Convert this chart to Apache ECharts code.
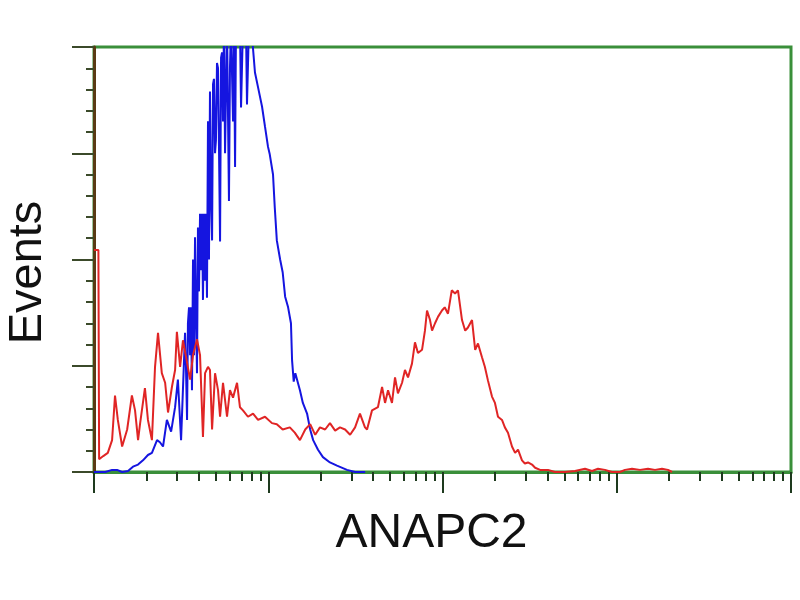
<!DOCTYPE html>
<html><head><meta charset="utf-8">
<script src="https://cdn.jsdelivr.net/npm/echarts@6/dist/echarts.min.js"></script>
<style>html,body{margin:0;padding:0;background:#fff}#c{width:800px;height:600px}</style>
</head><body><div id="c"></div>
<script>
const xTitle = 'ANAPC2';
const yTitle = 'Events';

const redIntensity = [1.0,1.06,1.07,1.13,1.20,1.27,1.32,1.37,1.45,1.55,1.65,1.72,1.79,1.84,1.96,2.04,2.15,2.24,2.33,2.45,2.56,2.66,2.80,2.92,2.99,3.12,3.24,3.42,3.56,3.70,3.90,4.06,4.22,4.34,4.51,4.63,4.76,4.95,5.15,5.29,5.50,5.80,6.03,6.28,6.62,6.88,7.16,7.65,8.18,8.74,9.58,10.5,11.2,12.1,13.3,14.2,15.2,16.3,17.4,18.6,19.8,21.2,22.6,24.2,25.8,27.6,29.5,31.5,33.6,35.9,36.9,39.4,42.6,45.0,46.8,48.7,51.3,53.4,55.5,58.6,60.9,63.4,66.8,69.5,72.3,76.3,79.3,81.5,84.8,87.1,90.6,94.2,99.3,103,107.5,113,118,122.7,129.4,135,140,147.7,154,159.8,168.5,175,182.4,192.3,200,208.2,219.5,228,237.6,250.5,261,271.3,285.9,297,309.6,326.3,340,363,403,442,504.7,575.9,657.3,721,780.6,856,939,1044,1115,1223,1360,1511,1658,1818,1969,2076];
const redEvents = [209,209,12,15,18,30,72,49,24,40,72,58,30,46,79,49,30,99,131,93,84,56,80,96,132,99,124,103,87,110,125,110,33,93,99,96,40,93,77,52,84,52,77,70,84,61,58,52,55,49,52,46,45,40,42,37,30,40,45,35,42,40,46,39,42,40,35,42,55,42,40,58,61,80,65,77,65,89,74,84,96,89,102,122,112,115,133,152,143,133,140,146,152,155,149,171,168,171,143,133,136,143,115,121,108,99,86,71,65,52,49,42,37,24,18,21,11,8,9,7,4,2,2,0,0,1,3,1,3,2,0,0,2,3,2,3,2,3,2,0];

const blueIntensity = [1.0,1.16,1.27,1.355,1.45,1.567,1.674,1.79,1.91,2.04,2.15,2.30,2.39,2.49,2.62,2.77,2.92,3.03,3.16,3.33,3.37,3.42,3.46,3.51,3.56,3.60,3.65,3.70,3.75,3.80,3.85,3.90,3.95,4.005,4.06,4.11,4.17,4.22,4.28,4.34,4.39,4.45,4.51,4.57,4.63,4.69,4.76,4.82,4.88,4.95,5.01,5.08,5.15,5.22,5.29,5.36,5.43,5.50,5.57,5.65,5.80,5.95,6.03,6.11,6.28,6.36,6.45,6.53,6.62,6.88,6.98,7.16,7.45,7.55,7.75,8.07,8.39,8.74,9.21,9.58,9.97,10.2,10.65,10.9,11.2,11.7,12.1,12.5,13.0,13.5,13.7,14.0,14.3,15.2,15.8,16.7,17.4,18.1,19.3,20.6,22.6,24.8,28.3,31.5,36];
const blueEvents = [0,0,2,2,0,1,5,7,11,16,18,30,28,24,49,38,61,87,30,131,100,49,140,155,110,155,77,200,110,221,150,93,230,170,243,190,243,162,243,180,243,164,330,200,358,260,218,365,370,300,312,385,380,300,217,390,395,330,420,300,420,255,380,420,330,420,287,420,420,420,343,420,420,346,420,410,376,362,344,325,306,299,280,249,218,200,188,165,155,140,105,85,93,77,65,55,40,30,21,14,9,6,2,0,0];

const xMajorTicks = [1,10,100,1000,10000];
const xMinorTicks = [2,3,4,5,6,7,8,9,20,30,40,50,60,70,80,90,200,300,400,500,600,700,800,900,2000,3000,4000,5000,6000,7000,8000,9000];

const zip = (xs, ys) => xs.map((x, i) => [x, ys[i]]);
const green = '#3a8f3a';
const font = 'Liberation Sans, Arial, sans-serif';

const chart = echarts.init(document.getElementById('c'), null, {renderer: 'canvas'});
const baseX = {
  type: 'log', logBase: 10, min: 1, max: 10000, position: 'bottom', offset: 0,
  axisLabel: {show: false}, splitLine: {show: false}
};
chart.setOption({
  animation: false,
  backgroundColor: '#fff',
  grid: {left: 94, right: 9, top: 47, bottom: 128, containLabel: false, outerBoundsMode: 'none',
         show: true, borderColor: green, borderWidth: 3, backgroundColor: '#fff'},
  xAxis: [
    Object.assign({}, baseX, {
      axisLine: {show: true, lineStyle: {color: green, width: 3}},
      axisTick: {show: true, customValues: xMinorTicks, length: 9, lineStyle: {color: '#1e3a1e', width: 2}},
      name: xTitle, nameLocation: 'middle', nameGap: 38,
      nameTextStyle: {fontSize: 48, fontFamily: font, color: '#111', padding: [0, 22, 0, 0]}
    }),
    Object.assign({}, baseX, {
      axisLine: {show: false},
      axisTick: {show: true, customValues: xMajorTicks, length: 21, lineStyle: {color: '#1e3a1e', width: 2}}
    })
  ],
  yAxis: {
    type: 'value', min: 0, max: 400, interval: 100,
    axisLine: {show: true, lineStyle: {color: '#5a3a14', width: 3}},
    axisTick: {show: true, length: 22, lineStyle: {color: '#3b4a2a', width: 2}},
    minorTick: {show: true, splitNumber: 5, length: 8, lineStyle: {color: '#3b4a2a', width: 2}},
    axisLabel: {show: false}, splitLine: {show: false},
    name: yTitle, nameLocation: 'middle', nameGap: 42, nameRotate: 90,
    nameTextStyle: {fontSize: 47, fontFamily: font, color: '#111', padding: [0, 26, 0, 0]}
  },
  series: [
    {type: 'line', xAxisIndex: 0, data: zip(blueIntensity, blueEvents), showSymbol: false, clip: true,
     lineStyle: {color: '#1515e0', width: 2}, z: 3},
    {type: 'line', xAxisIndex: 0, data: zip(redIntensity, redEvents), showSymbol: false, clip: true,
     lineStyle: {color: '#e02525', width: 2}, z: 4}
  ]
});
</script></body></html>
